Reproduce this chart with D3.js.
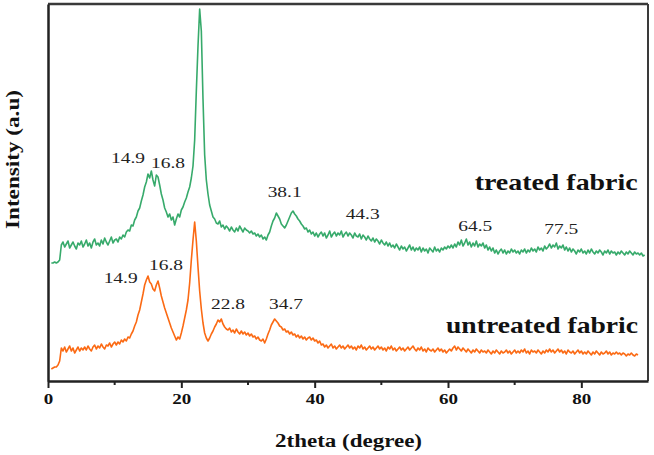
<!DOCTYPE html>
<html>
<head>
<meta charset="utf-8">
<script src="https://cdn.jsdelivr.net/npm/d3@7"></script>
<style>
  body { margin: 0; background: #fff; }
</style>
</head>
<body>
<div id="my_dataviz"></div>
<script>
// 2theta positions (degree), one reading every 0.25 deg, 5 deg per row
var theta = [
  0.5,0.75,1,1.25,1.5,1.75,2,2.25,2.5,2.75,3,3.25,3.5,3.75,4,4.25,4.5,4.75,5,5.25,
  5.5,5.75,6,6.25,6.5,6.75,7,7.25,7.5,7.75,8,8.25,8.5,8.75,9,9.25,9.5,9.75,10,10.25,
  10.5,10.75,11,11.25,11.5,11.75,12,12.25,12.5,12.75,13,13.25,13.5,13.75,14,14.25,14.5,14.75,15,15.25,
  15.5,15.75,16,16.25,16.5,16.75,17,17.25,17.5,17.75,18,18.25,18.5,18.75,19,19.25,19.5,19.75,20,20.25,
  20.5,20.75,21,21.25,21.5,21.75,22,22.25,22.5,22.75,23,23.25,23.5,23.75,24,24.25,24.5,24.75,25,25.25,
  25.5,25.75,26,26.25,26.5,26.75,27,27.25,27.5,27.75,28,28.25,28.5,28.75,29,29.25,29.5,29.75,30,30.25,
  30.5,30.75,31,31.25,31.5,31.75,32,32.25,32.5,32.75,33,33.25,33.5,33.75,34,34.25,34.5,34.75,35,35.25,
  35.5,35.75,36,36.25,36.5,36.75,37,37.25,37.5,37.75,38,38.25,38.5,38.75,39,39.25,39.5,39.75,40,40.25,
  40.5,40.75,41,41.25,41.5,41.75,42,42.25,42.5,42.75,43,43.25,43.5,43.75,44,44.25,44.5,44.75,45,45.25,
  45.5,45.75,46,46.25,46.5,46.75,47,47.25,47.5,47.75,48,48.25,48.5,48.75,49,49.25,49.5,49.75,50,50.25,
  50.5,50.75,51,51.25,51.5,51.75,52,52.25,52.5,52.75,53,53.25,53.5,53.75,54,54.25,54.5,54.75,55,55.25,
  55.5,55.75,56,56.25,56.5,56.75,57,57.25,57.5,57.75,58,58.25,58.5,58.75,59,59.25,59.5,59.75,60,60.25,
  60.5,60.75,61,61.25,61.5,61.75,62,62.25,62.5,62.75,63,63.25,63.5,63.75,64,64.25,64.5,64.75,65,65.25,
  65.5,65.75,66,66.25,66.5,66.75,67,67.25,67.5,67.75,68,68.25,68.5,68.75,69,69.25,69.5,69.75,70,70.25,
  70.5,70.75,71,71.25,71.5,71.75,72,72.25,72.5,72.75,73,73.25,73.5,73.75,74,74.25,74.5,74.75,75,75.25,
  75.5,75.75,76,76.25,76.5,76.75,77,77.25,77.5,77.75,78,78.25,78.5,78.75,79,79.25,79.5,79.75,80,80.25,
  80.5,80.75,81,81.25,81.5,81.75,82,82.25,82.5,82.75,83,83.25,83.5,83.75,84,84.25,84.5,84.75,85,85.25,
  85.5,85.75,86,86.25,86.5,86.75,87,87.25,87.5,87.75,88,88.25,88.5,88.75,89,89.25,89.5
];

// intensity (a.u.) - treated fabric
var treated = [
  118,118,119,118,119,121,136,139,134,137,140,133,136,139,135,132,138,136,140,134,
  137,141,135,138,133,139,142,136,138,135,141,137,143,139,136,140,144,138,141,142,
  139,144,142,146,144,149,151,150,156,155,161,164,170,173,180,186,194,199,207,203,
  210,201,195,206,204,196,187,181,173,169,164,167,161,164,156,162,167,164,171,174,
  179,183,189,194,203,215,241,290,335,372,350,282,226,201,187,176,170,164,162,158,
  157,160,154,156,152,155,153,150,154,151,149,153,150,155,152,149,153,151,150,148,
  150,147,148,145,147,144,146,142,144,141,146,149,155,160,163,168,165,162,157,155,
  153,156,160,164,168,170,167,165,162,160,157,155,152,153,149,151,147,149,145,148,
  144,147,149,145,148,143,146,150,144,147,149,145,148,146,150,144,147,149,145,148,
  146,143,148,145,144,147,142,146,144,141,145,142,140,143,139,142,140,137,141,138,
  136,139,135,138,134,136,133,137,134,131,135,132,134,130,133,136,131,134,130,133,
  131,134,129,133,130,132,128,133,131,129,134,130,132,129,133,131,134,132,135,133,
  136,133,137,134,139,136,141,135,138,142,136,139,134,138,135,140,134,137,135,138,
  133,136,131,134,130,133,128,131,127,130,132,128,131,127,130,128,132,129,131,128,
  130,127,131,129,132,128,131,129,133,130,132,129,134,131,133,130,135,132,134,137,
  133,136,134,138,132,135,133,136,131,134,130,133,129,132,130,127,131,129,132,128,
  130,127,131,128,132,129,127,130,128,131,129,126,130,128,131,127,130,128,129,126,
  129,127,130,128,126,129,127,130,128,126,129,127,128,126,128,125,126
];

// intensity (a.u.) - untreated fabric
var untreated = [
  12,13,14,14,16,20,33,30,34,29,32,35,30,33,28,31,34,30,33,31,
  34,31,35,32,30,34,36,32,35,33,37,34,32,36,35,38,34,37,39,36,
  39,37,41,39,42,40,44,43,47,50,55,59,66,71,79,87,96,101,105,99,
  97,92,90,96,100,93,85,79,73,68,63,58,53,49,45,41,44,42,48,55,
  63,71,81,98,121,141,159,140,114,90,72,58,48,43,40,43,47,50,54,57,
  61,59,62,57,54,52,51,53,49,51,48,52,49,47,50,47,49,46,48,45,
  47,44,45,42,44,41,40,42,38,42,47,51,56,59,62,60,58,55,54,51,
  52,49,50,47,49,46,47,44,46,43,45,42,44,41,43,44,41,43,40,41,
  38,40,36,37,34,36,33,35,37,33,35,32,34,36,33,35,32,34,36,33,
  35,32,34,31,35,33,36,32,34,31,33,35,32,34,31,33,35,32,34,31,
  33,30,34,32,35,31,33,30,32,34,31,33,30,32,34,31,33,35,32,30,
  33,31,34,30,32,29,33,31,30,32,29,31,33,30,32,29,31,28,30,32,
  30,33,35,31,34,32,30,33,31,29,32,30,28,31,29,32,30,28,31,29,
  30,28,31,29,27,30,28,31,29,27,30,28,29,31,28,30,27,29,31,28,
  30,28,31,29,32,28,30,27,31,29,30,28,31,29,27,30,28,31,29,32,
  29,31,28,30,32,29,31,28,30,27,31,29,28,30,27,29,31,28,30,27,
  29,27,30,28,26,29,27,30,28,26,29,27,28,30,27,29,26,28,27,29,
  27,28,26,28,27,25,27,26,28,26,25,27,26,null,null,null,null
];

var xMajorTicks = [0, 20, 40, 60, 80];
var xMinorTicks = [10, 30, 50, 70];

// peak annotations: label, 2theta where it sits, intensity of its baseline
var peakLabels = ["14.9", "16.8", "38.1", "44.3", "64.5", "77.5", "14.9", "16.8", "22.8", "34.7"];
var peakAtTheta = [12.0, 18.0, 35.5, 47.2, 64.1, 77.0, 10.9, 17.7, 27.0, 35.7];
var peakAtInt   = [218, 213, 184, 162, 150, 147, 98, 111, 72, 72];

var seriesNames = ["treated fabric", "untreated fabric"];
var seriesColors = ["#37aa6b", "#fb6a14"];

var serifFont = "'Liberation Serif', 'Times New Roman', serif";

var margin = {top: 4, right: 6, bottom: 74, left: 48},
    width = 654 - margin.left - margin.right,
    height = 455 - margin.top - margin.bottom;

var svg = d3.select("#my_dataviz")
  .append("svg")
    .attr("width", 654)
    .attr("height", 455)
    .style("font-family", serifFont);

var g = svg.append("g")
  .attr("transform", "translate(" + margin.left + "," + margin.top + ")");

var x = d3.scaleLinear().domain([0, 90]).range([0, width]);
var y = d3.scaleLinear().domain([0, 377]).range([height, 0]);

var line = d3.line()
  .defined(function(d) { return d[1] != null; })
  .x(function(d) { return x(d[0]); })
  .y(function(d) { return y(d[1]); });

[treated, untreated].forEach(function(vals, i) {
  var pts = theta.map(function(t, j) { return [t, vals[j]]; });
  g.append("path")
    .datum(pts)
    .attr("fill", "none")
    .attr("stroke", seriesColors[i])
    .attr("stroke-width", 1.6)
    .attr("stroke-linejoin", "round")
    .attr("d", line);
});

// frame (top and right)
g.append("line").attr("x1", 0).attr("x2", width).attr("y1", 0).attr("y2", 0)
  .attr("stroke", "#3a3a3a").attr("stroke-width", 2.5);
g.append("line").attr("x1", width).attr("x2", width).attr("y1", 0).attr("y2", height)
  .attr("stroke", "#3a3a3a").attr("stroke-width", 2);

// x axis
var xAxis = d3.axisBottom(x).tickValues(xMajorTicks).tickSize(7).tickSizeOuter(0).tickPadding(5);
var xg = g.append("g")
  .attr("transform", "translate(0," + height + ")")
  .call(xAxis);
xg.attr("font-family", null);
xg.select(".domain").attr("stroke", "#222").attr("stroke-width", 2.5);
xg.selectAll(".tick line").attr("stroke", "#222").attr("stroke-width", 2);
xg.selectAll(".tick text")
  .style("font-family", serifFont)
  .attr("font-weight", "bold")
  .attr("font-size", 15)
  .attr("fill", "#111")
  .attr("textLength", function(d) { return String(d).length * 9.5; })
  .attr("lengthAdjust", "spacingAndGlyphs");

xg.selectAll(".minor")
  .data(xMinorTicks)
  .enter().append("line")
  .attr("class", "minor")
  .attr("x1", function(d) { return x(d); })
  .attr("x2", function(d) { return x(d); })
  .attr("y1", 0).attr("y2", 4)
  .attr("stroke", "#222").attr("stroke-width", 2);

// y axis: line only
var yg = g.append("g").call(d3.axisLeft(y).tickValues([]).tickSizeOuter(0));
yg.select(".domain").attr("stroke", "#222").attr("stroke-width", 2.5);

// axis titles
svg.append("text")
  .attr("x", 275).attr("y", 447)
  .attr("font-weight", "bold").attr("font-size", 18)
  .attr("textLength", 147).attr("lengthAdjust", "spacingAndGlyphs")
  .attr("fill", "#111")
  .text("2theta (degree)");

svg.append("text")
  .attr("transform", "translate(19,229) rotate(-90)")
  .attr("font-weight", "bold").attr("font-size", 19)
  .attr("textLength", 139).attr("lengthAdjust", "spacingAndGlyphs")
  .attr("fill", "#111")
  .text("Intensity (a.u)");

// peak labels
g.selectAll(".peak")
  .data(peakLabels)
  .enter().append("text")
  .attr("class", "peak")
  .attr("x", function(d, i) { return x(peakAtTheta[i]) - 17; })
  .attr("y", function(d, i) { return y(peakAtInt[i]); })
  .attr("font-size", 15)
  .attr("textLength", 34).attr("lengthAdjust", "spacingAndGlyphs")
  .attr("fill", "#222")
  .text(function(d) { return d; });

// series names
var nameAtTheta = [64.0, 59.7];
var nameAtInt = [191, 48];
var nameLen = [163, 192];
g.selectAll(".sname")
  .data(seriesNames)
  .enter().append("text")
  .attr("class", "sname")
  .attr("x", function(d, i) { return x(nameAtTheta[i]); })
  .attr("y", function(d, i) { return y(nameAtInt[i]); })
  .attr("font-size", 24).attr("font-weight", "bold")
  .attr("textLength", function(d, i) { return nameLen[i]; })
  .attr("lengthAdjust", "spacingAndGlyphs")
  .attr("fill", "#111")
  .text(function(d) { return d; });
</script>
</body>
</html>
